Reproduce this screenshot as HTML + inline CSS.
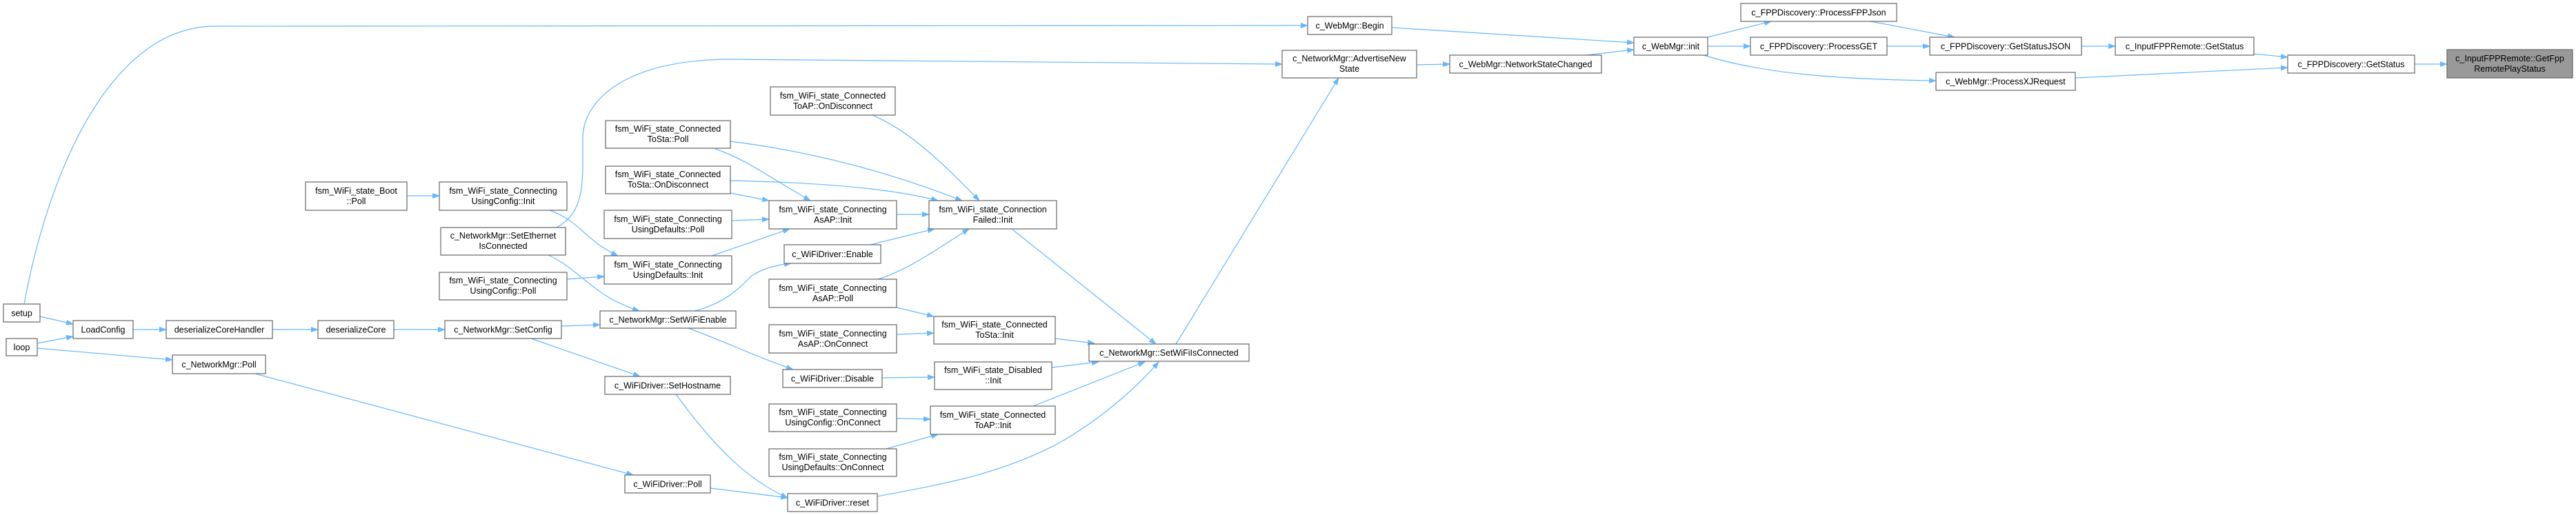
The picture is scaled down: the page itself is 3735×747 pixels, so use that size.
<!DOCTYPE html>
<html><head><meta charset="utf-8"><style>
html,body{margin:0;padding:0;background:#fff;}
svg{display:block;}
text{font-family:"Liberation Sans",Arial,sans-serif;font-size:12.5px;fill:#000;text-anchor:middle;}
.n{fill:#fff;stroke:#666;stroke-width:1.2;}
.h{fill:#999;stroke:#666;stroke-width:1.2;}
.e{fill:none;stroke:#63b8ff;stroke-width:1.2;marker-end:url(#a);}
</style></head><body>
<svg width="3735" height="747" viewBox="0 0 3735 747" xmlns="http://www.w3.org/2000/svg">
<defs><marker id="a" markerUnits="userSpaceOnUse" markerWidth="11" markerHeight="8" refX="10" refY="4" orient="auto"><path d="M0,0 L11,4 L0,8 z" fill="#63b8ff"/></marker></defs>

<!-- edges -->
<path class="e" d="M58,459 L106,470"/>
<path class="e" d="M54,498 L106,488"/>
<path class="e" d="M54,505 L250,522"/>
<path class="e" d="M35,441 C70,250 160,38 312,38 L1896,37"/>
<path class="e" d="M193,478 L241,478"/>
<path class="e" d="M395,478 L461,478"/>
<path class="e" d="M571,478 L645,478"/>
<path class="e" d="M370,542 L918,689"/>
<path class="e" d="M590,284 L637,284"/>
<path class="e" d="M797,305 C840,320 850,350 896,371"/>
<path class="e" d="M795,370 C840,390 860,430 927,451"/>
<path class="e" d="M807,330 C835,315 845,290 845,240 L845,200 C845,150 900,86 1060,86 L1859,93"/>
<path class="e" d="M822,405 L876,401"/>
<path class="e" d="M1032,371 L1145,332"/>
<path class="e" d="M1007,451 C1050,440 1070,420 1090,400 C1110,387 1130,384 1147,382"/>
<path class="e" d="M998,476 C1050,495 1090,515 1150,536"/>
<path class="e" d="M814,473 L870,471"/>
<path class="e" d="M770,491 L928,546"/>
<path class="e" d="M980,572 C1030,640 1080,695 1142,722"/>
<path class="e" d="M1030,708 L1142,722"/>
<path class="e" d="M1037,216 C1080,230 1120,260 1175,291"/>
<path class="e" d="M1059,205 C1180,220 1290,250 1395,291"/>
<path class="e" d="M1059,280 L1115,291"/>
<path class="e" d="M1059,262 C1200,265 1300,275 1360,291"/>
<path class="e" d="M1061,320 L1115,318"/>
<path class="e" d="M1265,167 C1320,190 1370,240 1420,291"/>
<path class="e" d="M1300,311 L1347,311"/>
<path class="e" d="M1262,355 L1355,332"/>
<path class="e" d="M1273,405 C1320,390 1360,360 1405,332"/>
<path class="e" d="M1300,446 L1354,459"/>
<path class="e" d="M1300,485 L1354,483"/>
<path class="e" d="M1279,548 L1355,547"/>
<path class="e" d="M1300,607 L1349,608"/>
<path class="e" d="M1285,651 L1360,630"/>
<path class="e" d="M1467,332 L1676,499"/>
<path class="e" d="M1530,491 L1587,498"/>
<path class="e" d="M1525,533 L1593,525"/>
<path class="e" d="M1498,589 L1660,525"/>
<path class="e" d="M1272,720 C1350,705 1450,690 1540,640 C1600,605 1650,560 1680,525"/>
<path class="e" d="M1705,499 L1941,113"/>
<path class="e" d="M2054,94 L2102,93"/>
<path class="e" d="M2300,80 L2369,72"/>
<path class="e" d="M2018,40 L2369,62"/>
<path class="e" d="M2476,54 L2568,31"/>
<path class="e" d="M2476,67 L2538,67"/>
<path class="e" d="M2470,80 C2550,105 2650,115 2807,117"/>
<path class="e" d="M2712,31 L2834,54"/>
<path class="e" d="M2736,67 L2798,67"/>
<path class="e" d="M3018,67 L3067,67"/>
<path class="e" d="M3268,78 L3317,83"/>
<path class="e" d="M3009,113 L3317,98"/>
<path class="e" d="M3501,93 L3548,93"/>

<!-- nodes -->
<rect class="n" x="5" y="441" width="53" height="26"/><text x="31.5" y="458.5">setup</text>
<rect class="n" x="9" y="491" width="45" height="25"/><text x="31.5" y="508">loop</text>
<rect class="n" x="106" y="465" width="87" height="26"/><text x="149.5" y="482.5">LoadConfig</text>
<rect class="n" x="241" y="465" width="154" height="26"/><text x="318" y="482.5">deserializeCoreHandler</text>
<rect class="n" x="461" y="465" width="110" height="26"/><text x="516" y="482.5">deserializeCore</text>
<rect class="n" x="250" y="515" width="135" height="27"/><text x="317.5" y="533">c_NetworkMgr::Poll</text>
<rect class="n" x="443" y="264" width="147" height="41"/><text x="516.5" y="281">fsm_WiFi_state_Boot</text><text x="516.5" y="296">::Poll</text>
<rect class="n" x="637" y="264" width="185" height="41"/><text x="729.5" y="281">fsm_WiFi_state_Connecting</text><text x="729.5" y="296">UsingConfig::Init</text>
<rect class="n" x="639" y="330" width="181" height="40"/><text x="729.5" y="346">c_NetworkMgr::SetEthernet</text><text x="729.5" y="361">IsConnected</text>
<rect class="n" x="637" y="395" width="185" height="40"/><text x="729.5" y="411">fsm_WiFi_state_Connecting</text><text x="729.5" y="426">UsingConfig::Poll</text>
<rect class="n" x="645" y="465" width="169" height="26"/><text x="729.5" y="482.5">c_NetworkMgr::SetConfig</text>
<rect class="n" x="878" y="175" width="181" height="40"/><text x="968.5" y="191">fsm_WiFi_state_Connected</text><text x="968.5" y="206">ToSta::Poll</text>
<rect class="n" x="878" y="241" width="181" height="40"/><text x="968.5" y="257">fsm_WiFi_state_Connected</text><text x="968.5" y="272">ToSta::OnDisconnect</text>
<rect class="n" x="876" y="305" width="185" height="41"/><text x="968.5" y="322">fsm_WiFi_state_Connecting</text><text x="968.5" y="337">UsingDefaults::Poll</text>
<rect class="n" x="876" y="371" width="185" height="41"/><text x="968.5" y="388">fsm_WiFi_state_Connecting</text><text x="968.5" y="403">UsingDefaults::Init</text>
<rect class="n" x="870" y="451" width="197" height="25"/><text x="968.5" y="468">c_NetworkMgr::SetWiFiEnable</text>
<rect class="n" x="877" y="546" width="182" height="26"/><text x="968" y="563.5">c_WiFiDriver::SetHostname</text>
<rect class="n" x="906" y="689" width="124" height="26"/><text x="968" y="706.5">c_WiFiDriver::Poll</text>
<rect class="n" x="1117" y="126" width="181" height="41"/><text x="1207.5" y="143">fsm_WiFi_state_Connected</text><text x="1207.5" y="158">ToAP::OnDisconnect</text>
<rect class="n" x="1115" y="291" width="185" height="41"/><text x="1207.5" y="308">fsm_WiFi_state_Connecting</text><text x="1207.5" y="323">AsAP::Init</text>
<rect class="n" x="1137" y="355" width="140" height="27"/><text x="1207" y="373">c_WiFiDriver::Enable</text>
<rect class="n" x="1115" y="405" width="185" height="41"/><text x="1207.5" y="422">fsm_WiFi_state_Connecting</text><text x="1207.5" y="437">AsAP::Poll</text>
<rect class="n" x="1115" y="471" width="185" height="41"/><text x="1207.5" y="488">fsm_WiFi_state_Connecting</text><text x="1207.5" y="503">AsAP::OnConnect</text>
<rect class="n" x="1135" y="536" width="144" height="26"/><text x="1207" y="553.5">c_WiFiDriver::Disable</text>
<rect class="n" x="1115" y="586" width="185" height="40"/><text x="1207.5" y="602">fsm_WiFi_state_Connecting</text><text x="1207.5" y="617">UsingConfig::OnConnect</text>
<rect class="n" x="1115" y="651" width="185" height="40"/><text x="1207.5" y="667">fsm_WiFi_state_Connecting</text><text x="1207.5" y="682">UsingDefaults::OnConnect</text>
<rect class="n" x="1142" y="716" width="130" height="26"/><text x="1207" y="733.5">c_WiFiDriver::reset</text>
<rect class="n" x="1347" y="291" width="185" height="41"/><text x="1439.5" y="308">fsm_WiFi_state_Connection</text><text x="1439.5" y="323">Failed::Init</text>
<rect class="n" x="1354" y="459" width="176" height="40"/><text x="1442" y="475">fsm_WiFi_state_Connected</text><text x="1442" y="490">ToSta::Init</text>
<rect class="n" x="1355" y="525" width="170" height="40"/><text x="1440" y="541">fsm_WiFi_state_Disabled</text><text x="1440" y="556">::Init</text>
<rect class="n" x="1349" y="589" width="181" height="41"/><text x="1439.5" y="606">fsm_WiFi_state_Connected</text><text x="1439.5" y="621">ToAP::Init</text>
<rect class="n" x="1579" y="499" width="232" height="25"/><text x="1695" y="516">c_NetworkMgr::SetWiFiIsConnected</text>
<rect class="n" x="1896" y="24" width="122" height="26"/><text x="1957" y="41.5">c_WebMgr::Begin</text>
<rect class="n" x="1859" y="73" width="195" height="40"/><text x="1956.5" y="89">c_NetworkMgr::AdvertiseNew</text><text x="1956.5" y="104">State</text>
<rect class="n" x="2102" y="80" width="220" height="26"/><text x="2212" y="97.5">c_WebMgr::NetworkStateChanged</text>
<rect class="n" x="2369" y="54" width="107" height="26"/><text x="2422.5" y="71.5">c_WebMgr::init</text>
<rect class="n" x="2524" y="5" width="226" height="26"/><text x="2637" y="22.5">c_FPPDiscovery::ProcessFPPJson</text>
<rect class="n" x="2538" y="54" width="198" height="26"/><text x="2637" y="71.5">c_FPPDiscovery::ProcessGET</text>
<rect class="n" x="2798" y="54" width="220" height="26"/><text x="2908" y="71.5">c_FPPDiscovery::GetStatusJSON</text>
<rect class="n" x="2807" y="105" width="202" height="26"/><text x="2908" y="122.5">c_WebMgr::ProcessXJRequest</text>
<rect class="n" x="3067" y="54" width="201" height="26"/><text x="3167.5" y="71.5">c_InputFPPRemote::GetStatus</text>
<rect class="n" x="3317" y="80" width="184" height="26"/><text x="3409" y="97.5">c_FPPDiscovery::GetStatus</text>
<rect class="h" x="3548" y="72" width="182" height="41"/><text x="3639" y="89">c_InputFPPRemote::GetFpp</text><text x="3639" y="104">RemotePlayStatus</text>
</svg>
</body></html>
